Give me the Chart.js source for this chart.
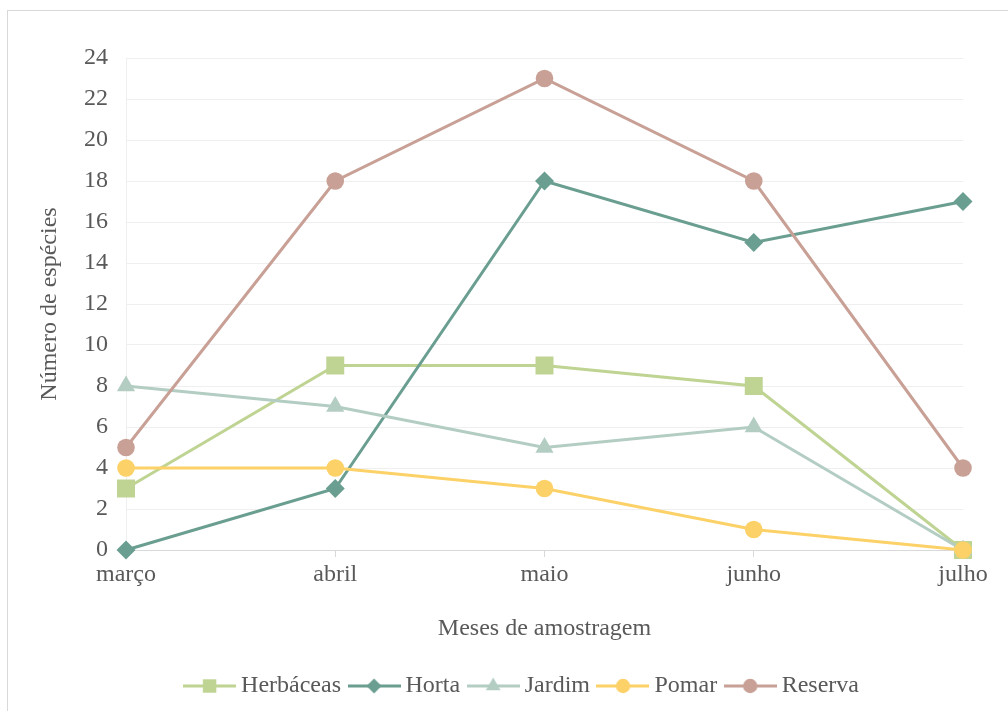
<!DOCTYPE html>
<html>
<head>
<meta charset="utf-8">
<script src="https://cdn.jsdelivr.net/npm/chart.js@4.4.1/dist/chart.umd.min.js"></script>
<style>
  html, body { margin: 0; padding: 0; background: #ffffff; overflow: hidden; }
  #wrap { position: relative; width: 1008px; height: 711px; }
  #frame { position: absolute; left: 7px; top: 10px; width: 1060px; height: 760px;
           border: 1px solid #d9d9d9; box-sizing: border-box; }
  canvas { position: absolute; left: 0; top: 0; }
</style>
</head>
<body>
<div id="wrap">
  <div id="frame"></div>
  <canvas id="chart" width="1008" height="711"></canvas>
</div>
<script>
// Species counts per sampling month
const months = ['março', 'abril', 'maio', 'junho', 'julho'];
const herbaceas = [3, 9, 9, 8, 0];
const horta     = [0, 3, 18, 15, 17];
const jardim    = [8, 7, 5, 6, 0];
const pomar     = [4, 4, 3, 1, 0];
const reserva   = [5, 18, 23, 18, 4];

const seriesNames = ['Herbáceas', 'Horta', 'Jardim', 'Pomar', 'Reserva'];
const seriesData  = [herbaceas, horta, jardim, pomar, reserva];
const colors      = ['#bfd492', '#6a9e90', '#b3cdc3', '#fcd167', '#c8a096'];
const markers     = ['rect', 'rectRot', 'triangle', 'circle', 'circle'];
const radii       = [12.7, 9.5, 10.5, 8.8, 8.8];
const legendRadii = [9.5, 7.5, 8.5, 7.2, 7.2];

const FONT = 'Liberation Serif, "Times New Roman", serif';
const TEXT = '#595959';

// Small line-with-marker swatch used as legend symbol
function marker(g, style, r, x, y) {
  g.beginPath();
  if (style === 'circle') {
    g.arc(x, y, r, 0, Math.PI * 2);
  } else if (style === 'rect') {
    const s = r * Math.SQRT1_2;
    g.rect(x - s, y - s, 2 * s, 2 * s);
  } else if (style === 'rectRot') {
    g.moveTo(x - r, y); g.lineTo(x, y - r); g.lineTo(x + r, y); g.lineTo(x, y + r);
  } else if (style === 'triangle') {
    for (let k = 0; k < 3; k++) {
      const a = k * 2 * Math.PI / 3;
      const px = x + Math.sin(a) * r, py = y - Math.cos(a) * r;
      k ? g.lineTo(px, py) : g.moveTo(px, py);
    }
  }
  g.closePath();
  g.fill();
}
function swatch(color, style, r) {
  const c = document.createElement('canvas');
  c.width = 53; c.height = 26;
  const g = c.getContext('2d');
  g.strokeStyle = color; g.fillStyle = color; g.lineWidth = 3;
  g.beginPath(); g.moveTo(0, 13); g.lineTo(53, 13); g.stroke();
  marker(g, style, r, 26.5, 13);
  return c;
}
const swatches = seriesNames.map((n, i) => swatch(colors[i], markers[i], legendRadii[i]));

const datasets = seriesNames.map((name, i) => ({
  label: name,
  data: seriesData[i],
  borderColor: colors[i],
  backgroundColor: colors[i],
  borderWidth: 3,
  pointStyle: markers[i],
  pointRadius: radii[i],
  pointHoverRadius: radii[i],
  pointBackgroundColor: colors[i],
  pointBorderColor: colors[i],
  pointBorderWidth: 0,
  tension: 0,
  clip: false,
  order: seriesNames.length - 1 - i
}));

// Move the legend row so it sits centred under the whole frame
const legendShift = {
  id: 'legendShift',
  afterLayout(chart) {
    const l = chart.legend;
    if (l) { l.left += 38; l.right += 38; }
  }
};

new Chart(document.getElementById('chart'), {
  type: 'line',
  data: { labels: months, datasets },
  plugins: [legendShift],
  options: {
    responsive: false,
    animation: false,
    devicePixelRatio: 1,
    layout: { padding: { left: 10, right: 45, top: 58, bottom: 3 } },
    plugins: {
      tooltip: { enabled: false },
      legend: {
        position: 'bottom',
        labels: {
          usePointStyle: true,
          pointStyleWidth: 39,
          padding: 13.5,
          color: TEXT,
          font: { family: FONT, size: 24 },
          generateLabels: () => seriesNames.map((n, i) => ({
            text: n,
            pointStyle: swatches[i],
            fillStyle: colors[i],
            strokeStyle: colors[i],
            fontColor: TEXT,
            lineWidth: 0,
            hidden: false,
            datasetIndex: i
          }))
        }
      }
    },
    scales: {
      x: {
        type: 'category',
        offset: false,
        afterFit(s) { s.height = 110.5; },
        grid: { display: true, drawOnChartArea: false, drawTicks: true, tickLength: 7, color: '#d9d9d9' },
        border: { display: true, color: '#d9d9d9', width: 1 },
        ticks: { color: TEXT, padding: 3, font: { family: FONT, size: 24 }, maxRotation: 0, autoSkip: false },
        title: { display: true, text: 'Meses de amostragem', color: TEXT,
                 font: { family: FONT, size: 24 }, padding: { top: 0, bottom: 17 } }
      },
      y: {
        min: 0,
        max: 24,
        afterFit(s) { s.width = 116; },
        grid: { color: (c) => (c.tick && c.tick.value === 0) ? 'rgba(0,0,0,0)' : '#efefef', drawTicks: false, lineWidth: 1 },
        border: { display: true, color: '#efefef', width: 1 },
        ticks: { stepSize: 2, color: TEXT, padding: 18, font: { family: FONT, size: 24 } },
        title: { display: true, text: 'Número de espécies', color: TEXT,
                 font: { family: FONT, size: 24 }, padding: { top: 25.6, bottom: 0 } }
      }
    }
  }
});
</script>
</body>
</html>
